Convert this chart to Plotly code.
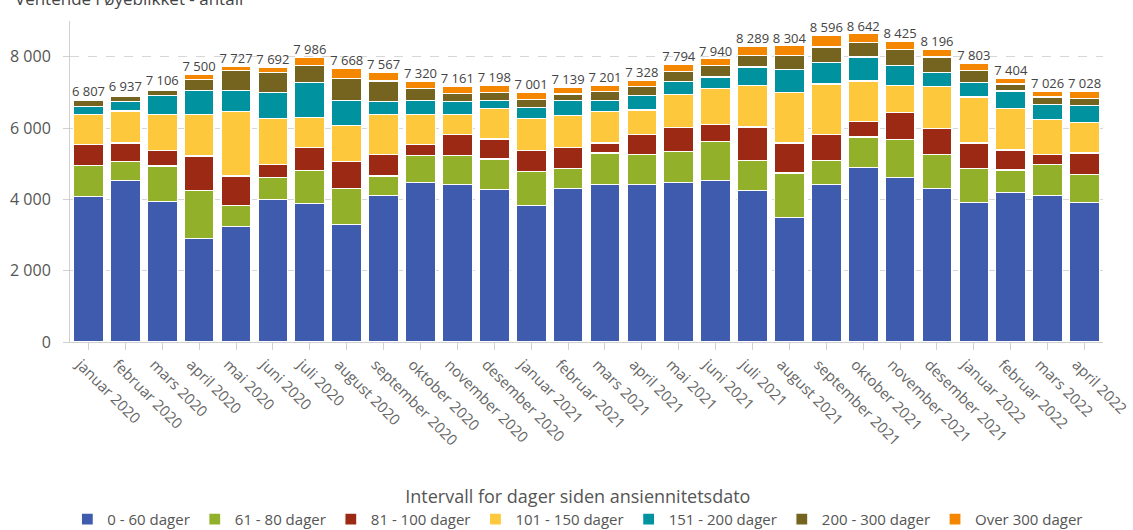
import plotly.graph_objects as go

months = ["januar 2020", "februar 2020", "mars 2020", "april 2020", "mai 2020", "juni 2020",
          "juli 2020", "august 2020", "september 2020", "oktober 2020", "november 2020",
          "desember 2020", "januar 2021", "februar 2021", "mars 2021", "april 2021", "mai 2021",
          "juni 2021", "juli 2021", "august 2021", "september 2021", "oktober 2021",
          "november 2021", "desember 2021", "januar 2022", "februar 2022", "mars 2022", "april 2022"]

totals = [6807, 6937, 7106, 7500, 7727, 7692, 7986, 7668, 7567, 7320, 7161, 7198, 7001, 7139,
          7201, 7328, 7794, 7940, 8289, 8304, 8596, 8642, 8425, 8196, 7803, 7404, 7026, 7028]

d0_60 = [4070, 4536, 3929, 2900, 3248, 4004, 3892, 3285, 4097, 4461, 4424, 4265, 3817, 4293,
         4424, 4424, 4461, 4536, 4256, 3491, 4415, 4900, 4620, 4303, 3901, 4181, 4097, 3901]
d61_80 = [886, 523, 1008, 1356, 569, 616, 924, 1008, 560, 766, 803, 868, 971, 570,
          877, 840, 887, 1092, 840, 1250, 681, 849, 1055, 961, 962, 644, 887, 803]
d81_100 = [588, 522, 439, 961, 840, 355, 635, 766, 598, 317, 597, 560, 588, 597,
           280, 560, 672, 476, 933, 840, 728, 439, 756, 728, 718, 560, 280, 597]
d101_150 = [840, 896, 1008, 1167, 1811, 1288, 840, 1008, 1129, 840, 560, 850, 887, 887,
            887, 681, 924, 1008, 1167, 1410, 1409, 1129, 765, 1167, 1288, 1167, 971, 850]
d151_200 = [230, 270, 522, 672, 580, 728, 980, 709, 364, 392, 364, 233, 317, 429,
            308, 402, 364, 317, 513, 644, 598, 672, 551, 392, 402, 485, 429, 476]
d200_300 = [150, 150, 160, 299, 560, 571, 476, 607, 569, 327, 215, 224, 215, 177,
            252, 252, 280, 327, 327, 401, 438, 402, 448, 438, 345, 196, 205, 196]
over300 = [43, 40, 40, 145, 119, 130, 239, 285, 250, 217, 198, 198, 206, 186,
           173, 169, 206, 184, 253, 268, 327, 251, 230, 207, 187, 171, 157, 205]

series = [
    ("0 - 60 dager", d0_60, "#3F5BAE"),
    ("61 - 80 dager", d61_80, "#93B02A"),
    ("81 - 100 dager", d81_100, "#9C2914"),
    ("101 - 150 dager", d101_150, "#FEC83C"),
    ("151 - 200 dager", d151_200, "#00939F"),
    ("200 - 300 dager", d200_300, "#746420"),
    ("Over 300 dager", over300, "#F58700"),
]

FONT = "Open Sans"

fig = go.Figure()
for name, vals, col in series:
    fig.add_trace(go.Bar(x=months, y=vals, name=name,
                         marker=dict(color=col, line=dict(color="white", width=1.2))))

fig.add_trace(go.Scatter(x=months, y=totals, mode="text",
                         text=[f"{t:,}".replace(",", " ") for t in totals],
                         textposition="top center",
                         textfont=dict(family=FONT, size=13, color="#444"),
                         showlegend=False, hoverinfo="skip", cliponaxis=False))

fig.update_layout(
    barmode="stack",
    bargap=0.19,
    width=1133, height=530,
    margin=dict(l=70, r=30, t=21, b=188, autoexpand=False),
    paper_bgcolor="white", plot_bgcolor="white",
    separators=", ",
    font=dict(family=FONT, color="#555"),
    legend=dict(orientation="h", xref="container", yref="paper",
                x=0.51, xanchor="center", y=-0.428, yanchor="top",
                font=dict(size=15, color="#555"),
                title=dict(text="Intervall for dager siden ansiennitetsdato", side="top center",
                           font=dict(size=18, color="#555")),
                itemwidth=30, traceorder="normal"),
    annotations=[dict(text="Ventende i øyeblikket - antall", xref="paper", yref="paper",
                      x=0, y=1, xanchor="left", yanchor="bottom", xshift=-57, yshift=9,
                      showarrow=False, font=dict(size=17, color="#444"))],
)

fig.update_yaxes(range=[0, 9000], tickvals=[0, 2000, 4000, 6000, 8000], tickformat=",d",
                 showline=True, linecolor="#d0d0d0", linewidth=1,
                 showgrid=True, gridcolor="#d6d6d6", griddash="dash",
                 ticks="outside", ticklen=6, tickcolor="#d0d0d0", ticklabelstandoff=9,
                 tickfont=dict(size=16, color="#555"), zeroline=False)
fig.update_xaxes(range=[-0.5, len(months) - 0.5],
                 showline=True, linecolor="#d0d0d0", linewidth=1,
                 ticks="outside", ticklen=7, tickcolor="#d0d0d0",
                 tickangle=45, ticklabelshift=-8, tickfont=dict(size=15, color="#666"))

fig.write_html("out.html")
